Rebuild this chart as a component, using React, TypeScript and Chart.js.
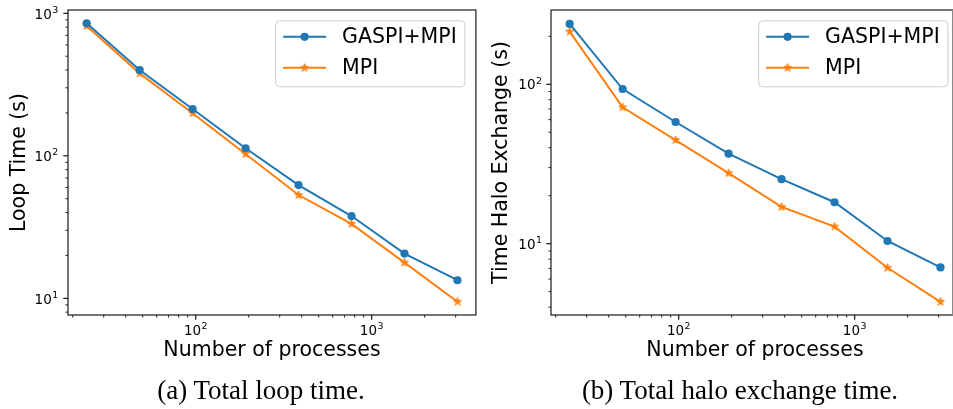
import React, { useEffect, useRef } from "react";
import { Chart, registerables } from "chart.js";

Chart.register(...registerables);

// ---- data ----
const processes = [24, 48, 96, 192, 384, 768, 1536, 3072];
const loopGaspiMpi = [851, 400, 213, 113, 62.3, 37.8, 20.6, 13.4];
const loopMpi = [815, 379, 199, 103, 53.1, 33.3, 17.8, 9.47];
const haloGaspiMpi = [239, 93.4, 58, 36.7, 25.4, 18.2, 10.4, 7.1];
const haloMpi = [214, 71.7, 44.7, 27.7, 17.0, 12.8, 7.06, 4.32];
const seriesLabels = ["GASPI+MPI", "MPI"];

// ---- ticks ----
const xTickValues = [20, 30, 40, 50, 60, 70, 80, 90, 100, 200, 300, 400, 500, 600, 700, 800, 900, 1000, 2000, 3000];
const loopTickValues = [8, 9, 10, 20, 30, 40, 50, 60, 70, 80, 90, 100, 200, 300, 400, 500, 600, 700, 800, 900, 1000];
const haloTickValues = [4, 5, 6, 7, 8, 9, 10, 20, 30, 40, 50, 60, 70, 80, 90, 100, 200];
const tickBase = "10";

const xTitle = "Number of processes";
const yTitleA = "Loop Time (s)";
const yTitleB = "Time Halo Exchange (s)";
const captionA = "(a) Total loop time.";
const captionB = "(b) Total halo exchange time.";

const BLUE = "#1f77b4";
const ORANGE = "#ff7f0e";
const SANS = "'DejaVu Sans', sans-serif";

function isDecade(v: number) {
  const l = Math.log10(v);
  return Math.abs(l - Math.round(l)) < 1e-9;
}

function makeStar(color: string) {
  const size = 12;
  const c = document.createElement("canvas");
  c.width = size;
  c.height = size;
  const ctx = c.getContext("2d")!;
  ctx.translate(size / 2, size / 2);
  ctx.beginPath();
  const R = 4.2;
  for (let i = 0; i < 10; i++) {
    const r = i % 2 === 0 ? R : R * 0.381966;
    const a = -Math.PI / 2 + (i * Math.PI) / 5;
    ctx.lineTo(r * Math.cos(a), r * Math.sin(a));
  }
  ctx.closePath();
  ctx.fillStyle = color;
  ctx.fill();
  ctx.lineWidth = 1;
  ctx.strokeStyle = color;
  ctx.stroke();
  return c;
}

// draws "10" with a raised exponent; anchor: 'center' (x axis) or 'right' (y axis)
function drawPowerLabel(ctx: CanvasRenderingContext2D, value: number, x: number, baseline: number, anchor: "center" | "right") {
  const exp = String(Math.round(Math.log10(value)));
  ctx.font = `13.5px ${SANS}`;
  const wb = ctx.measureText(tickBase).width;
  ctx.font = `9.45px ${SANS}`;
  const we = ctx.measureText(exp).width;
  const total = wb + we + 0.5;
  const x0 = anchor === "center" ? x - total / 2 : x - total;
  ctx.textAlign = "left";
  ctx.textBaseline = "alphabetic";
  ctx.fillStyle = "#000";
  ctx.font = `13.5px ${SANS}`;
  ctx.fillText(tickBase, x0, baseline);
  ctx.font = `9.45px ${SANS}`;
  ctx.fillText(exp, x0 + wb + 0.5, baseline - 5.6);
}

type PanelProps = {
  gaspi: number[];
  mpi: number[];
  yTicks: number[];
  yMin: number;
  yMax: number;
  yTitle: string;
  yWidth: number;
  yTitlePad: number;
  yTickPad: number;
  width: number;
  left: number;
};

function Panel(p: PanelProps) {
  const ref = useRef<HTMLCanvasElement | null>(null);
  useEffect(() => {
    if (!ref.current) return;
    const star = makeStar(ORANGE);

    const framePlugin = {
      id: "mplFrame",
      afterDatasetsDraw(chart: any) {
        const ctx = chart.ctx as CanvasRenderingContext2D;
        const a = chart.chartArea;
        const xs = chart.scales.x;
        const ys = chart.scales.y;
        ctx.save();
        ctx.strokeStyle = "#000";
        // ticks + labels
        for (const t of xs.ticks) {
          const px = xs.getPixelForValue(t.value);
          if (px < a.left - 0.5 || px > a.right + 0.5) continue;
          const major = isDecade(t.value);
          ctx.lineWidth = major ? 1.08 : 0.8;
          ctx.beginPath();
          ctx.moveTo(px, a.bottom);
          ctx.lineTo(px, a.bottom + (major ? 4.7 : 2.7));
          ctx.stroke();
          if (major) drawPowerLabel(ctx, t.value, px, a.bottom + 19.5, "center");
        }
        for (const t of ys.ticks) {
          const py = ys.getPixelForValue(t.value);
          if (py < a.top - 0.5 || py > a.bottom + 0.5) continue;
          const major = isDecade(t.value);
          ctx.lineWidth = major ? 1.08 : 0.8;
          ctx.beginPath();
          ctx.moveTo(a.left, py);
          ctx.lineTo(a.left - (major ? 4.7 : 2.7), py);
          ctx.stroke();
          if (major) drawPowerLabel(ctx, t.value, a.left - p.yTickPad, py + 5.2, "right");
        }
        // frame
        ctx.strokeStyle = "#000";
        ctx.lineWidth = 1.08;
        ctx.strokeRect(a.left, a.top, a.right - a.left, a.bottom - a.top);

        // legend
        const bw = 189.3;
        const bh = 66;
        const bx = a.right - 11 - bw;
        const by = a.top + 10.8;
        ctx.beginPath();
        const r = 4;
        ctx.moveTo(bx + r, by);
        ctx.lineTo(bx + bw - r, by);
        ctx.arcTo(bx + bw, by, bx + bw, by + r, r);
        ctx.lineTo(bx + bw, by + bh - r);
        ctx.arcTo(bx + bw, by + bh, bx + bw - r, by + bh, r);
        ctx.lineTo(bx + r, by + bh);
        ctx.arcTo(bx, by + bh, bx, by + bh - r, r);
        ctx.lineTo(bx, by + r);
        ctx.arcTo(bx, by, bx + r, by, r);
        ctx.closePath();
        ctx.fillStyle = "rgba(255,255,255,0.8)";
        ctx.fill();
        ctx.strokeStyle = "#cccccc";
        ctx.lineWidth = 1;
        ctx.stroke();

        chart.data.datasets.forEach((ds: any, i: number) => {
          const ry = by + 16 + i * 31;
          const hx = bx + 7.5;
          ctx.strokeStyle = ds.borderColor;
          ctx.lineWidth = 2;
          ctx.beginPath();
          ctx.moveTo(hx, ry);
          ctx.lineTo(hx + 43, ry);
          ctx.stroke();
          const mx = hx + 21.5;
          if (typeof ds.pointStyle === "object") {
            ctx.drawImage(ds.pointStyle, mx - ds.pointStyle.width / 2, ry - ds.pointStyle.height / 2);
          } else {
            ctx.fillStyle = ds.borderColor;
            ctx.beginPath();
            ctx.arc(mx, ry, 4.1, 0, Math.PI * 2);
            ctx.fill();
          }
          ctx.fillStyle = "#000";
          ctx.font = `20.5px ${SANS}`;
          ctx.textAlign = "left";
          ctx.textBaseline = "middle";
          ctx.fillText(ds.label, bx + 66.5, ry + 0.5);
        });
        ctx.restore();
      },
    };

    const chart = new Chart(ref.current, {
      type: "line",
      data: {
        datasets: [
          {
            label: seriesLabels[0],
            data: processes.map((x, i) => ({ x, y: p.gaspi[i] })),
            borderColor: BLUE,
            backgroundColor: BLUE,
            borderWidth: 2,
            pointRadius: 4.1,
            pointBorderWidth: 0,
            pointStyle: "circle",
          },
          {
            label: seriesLabels[1],
            data: processes.map((x, i) => ({ x, y: p.mpi[i] })),
            borderColor: ORANGE,
            backgroundColor: ORANGE,
            borderWidth: 2,
            pointRadius: 4,
            pointBorderWidth: 0,
            pointStyle: star as any,
          },
        ],
      },
      options: {
        responsive: false,
        animation: false,
        devicePixelRatio: 1,
        layout: { padding: { left: 0, right: 1, top: 10, bottom: 0 } },
        plugins: { legend: { display: false }, tooltip: { enabled: false } },
        scales: {
          x: {
            type: "logarithmic",
            min: 18.8,
            max: 3910,
            afterBuildTicks: (s: any) => {
              s.ticks = xTickValues.map((v) => ({ value: v }));
            },
            afterFit: (s: any) => {
              s.height = 94;
            },
            grid: { display: false, drawTicks: false },
            border: { display: false },
            ticks: { display: false, autoSkip: false, maxRotation: 0, minRotation: 0 },
            title: {
              display: true,
              text: xTitle,
              color: "#000",
              font: { family: SANS, size: 20.5 },
              padding: { top: 0, bottom: 45.7 },
            },
          },
          y: {
            type: "logarithmic",
            min: p.yMin,
            max: p.yMax,
            afterBuildTicks: (s: any) => {
              s.ticks = p.yTicks.map((v) => ({ value: v }));
            },
            afterFit: (s: any) => {
              s.width = p.yWidth;
            },
            grid: { display: false, drawTicks: false },
            border: { display: false },
            ticks: { display: false, autoSkip: false },
            title: {
              display: true,
              text: p.yTitle,
              color: "#000",
              font: { family: SANS, size: 20.5 },
              padding: { top: p.yTitlePad, bottom: 0 },
            },
          },
        },
      },
      plugins: [framePlugin],
    } as any);
    return () => chart.destroy();
  }, []);
  return (
    <canvas
      ref={ref}
      width={p.width}
      height={409}
      style={{ position: "absolute", left: p.left, top: 0, width: p.width, height: 409 }}
    />
  );
}

const captionStyle: React.CSSProperties = {
  position: "absolute",
  top: 377,
  width: 500,
  height: 27,
  lineHeight: "27px",
  fontSize: 27,
  fontFamily: "'Liberation Serif', serif",
  textAlign: "center",
  color: "#000",
  whiteSpace: "nowrap",
};

export default function App() {
  return (
    <div
      style={{
        position: "absolute",
        left: 0,
        top: 0,
        width: 953,
        height: 409,
        overflow: "hidden",
        background: "#fff",
      }}
    >
      <Panel
        gaspi={loopGaspiMpi}
        mpi={loopMpi}
        yTicks={loopTickValues}
        yMin={7.64}
        yMax={1055}
        yTitle={yTitleA}
        yWidth={68}
        yTitlePad={7.7}
        yTickPad={9.7}
        width={480}
        left={0}
      />
      <Panel
        gaspi={haloGaspiMpi}
        mpi={haloMpi}
        yTicks={haloTickValues}
        yMin={3.57}
        yMax={292.4}
        yTitle={yTitleB}
        yWidth={71}
        yTitlePad={9.7}
        yTickPad={9}
        width={483}
        left={480}
      />
      <div style={{ position: "absolute", left: 952, top: 10, width: 1, height: 305, background: "#8a8a8a" }} />
      <div style={{ ...captionStyle, left: 261 - 250 }}>{captionA}</div>
      <div style={{ ...captionStyle, left: 740 - 250 }}>{captionB}</div>
    </div>
  );
}
